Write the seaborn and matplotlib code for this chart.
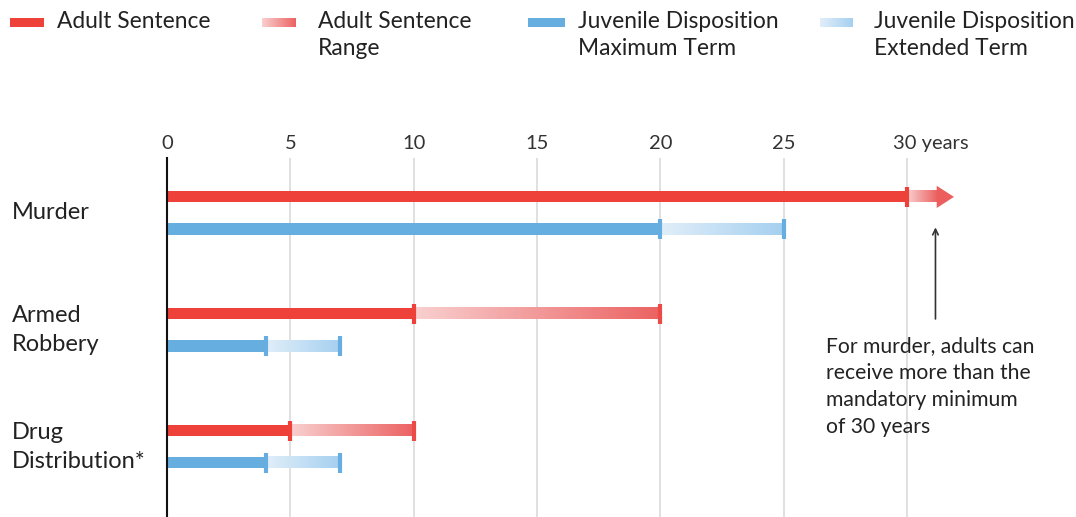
import matplotlib.pyplot as plt
import matplotlib.colors as mcolors
import matplotlib.transforms as mtransforms
import numpy as np
import pandas as pd
import seaborn as sns

sns.set_style('white')
plt.rcParams['font.family'] = ['Lato', 'DejaVu Sans']

# data (years)
offenses = ['Murder', 'Armed\nRobbery', 'Drug\nDistribution*']
adult_min = [30, 10, 5]
adult_max = [None, 20, 10]          # murder has no upper limit -> arrow
murder_arrow_end = 31.9
juvenile_max = [20, 4, 4]
juvenile_ext = [25, 7, 7]
ticks = [0, 5, 10, 15, 20, 25, 30]
tick_labels = ['0', '5', '10', '15', '20', '25', '30 years']
legend_labels = ['Adult Sentence', 'Adult Sentence\nRange',
                 'Juvenile Disposition\nMaximum Term', 'Juvenile Disposition\nExtended Term']

RED = '#EE4139'
BLUE = '#66AEE0'
red_range = mcolors.LinearSegmentedColormap.from_list('rr', ['#F9D0D0', '#EC6262'])
blue_range = mcolors.LinearSegmentedColormap.from_list('br', ['#E1EEF9', '#A5D0F0'])
TEXT = '#222222'

W, H = 1076, 517
fig = plt.figure(figsize=(W / 100, H / 100), dpi=100)
ax = fig.add_axes([167 / W, 0, 909 / W, (H - 158) / H])

df = pd.DataFrame({
    'offense': offenses * 2,
    'years': adult_min + juvenile_max,
    'type': ['Adult Sentence'] * 3 + ['Juvenile Disposition Maximum Term'] * 3,
})
sns.barplot(data=df, y='offense', x='years', hue='type', palette=[RED, BLUE],
            width=0.55, dodge=True, saturation=1, legend=False, ax=ax, zorder=3)

# thin the bars around their centres
bar_h = 0.095
centres = []
for p in ax.patches:
    cy = p.get_y() + p.get_height() / 2
    p.set_height(bar_h)
    p.set_y(cy - bar_h / 2)
    p.set_linewidth(0)
    centres.append(cy)
y_adult = centres[:3]
y_juv = centres[3:6]

grad = np.linspace(0, 1, 256).reshape(1, -1)


def gradient_bar(x0, x1, y, cmap):
    ax.imshow(grad, extent=[x0, x1, y + bar_h / 2, y - bar_h / 2], aspect='auto',
              cmap=cmap, zorder=2, interpolation='bilinear')


cap = dict(marker='|', ms=15, mew=3, zorder=4, clip_on=False)
for i in range(3):
    # adult
    if adult_max[i] is None:
        head = 0.7
        gradient_bar(adult_min[i], murder_arrow_end - head, y_adult[i], red_range)
        ax.fill([murder_arrow_end - head, murder_arrow_end, murder_arrow_end - head],
                [y_adult[i] - 0.095, y_adult[i], y_adult[i] + 0.095],
                color='#EC5E5E', lw=0, zorder=3)
    else:
        gradient_bar(adult_min[i], adult_max[i], y_adult[i], red_range)
        ax.plot([adult_max[i]], [y_adult[i]], color='#EC4A46', **cap)
    ax.plot([adult_min[i]], [y_adult[i]], color=RED, **cap)
    # juvenile
    gradient_bar(juvenile_max[i], juvenile_ext[i], y_juv[i], blue_range)
    ax.plot([juvenile_max[i]], [y_juv[i]], color=BLUE, **cap)
    ax.plot([juvenile_ext[i]], [y_juv[i]], color=BLUE, **cap)

ax.set_xlim(0, 909 / 24.67)
ax.set_ylim(2.6, -0.47)
ax.set_xticks(ticks)
ax.set_xticklabels(tick_labels)
ax.set_yticks([])
ax.set_xlabel('')
ax.set_ylabel('')
ax.xaxis.tick_top()
ax.tick_params(axis='x', length=0, pad=4, labelsize=14.5, labelcolor='#333333')
# keep the number of the last label on its tick, unit runs off to the right
last = ax.get_xticklabels()[-1]
last.set_horizontalalignment('left')
last.set_transform(last.get_transform() +
                   mtransforms.ScaledTranslation(-0.14, 0, fig.dpi_scale_trans))
ax.grid(axis='x', color='#dddddd', lw=1.3)
ax.set_axisbelow(True)
sns.despine(ax=ax, left=False, bottom=True)
ax.spines['left'].set_color('#111111')
ax.spines['left'].set_linewidth(1.5)
ax.spines['left'].set_zorder(5)

# category labels on the left
for i, name in enumerate(offenses):
    ax.text(-155 / 909, i, name, transform=ax.get_yaxis_transform(), ha='left',
            va='center', fontsize=17, color=TEXT, linespacing=1.47)

# annotation for murder
ax.annotate('', xy=(31.15, 0.10), xytext=(31.15, 0.93),
            arrowprops=dict(arrowstyle='->', color='#333333', lw=1.2))
ax.text(26.71, 1.055, 'For murder, adults can\nreceive more than the\nmandatory minimum\nof 30 years',
        ha='left', va='top', fontsize=15.2, color=TEXT, linespacing=1.44)

# legend built by hand
legend_x = [(10, 43, 57), (262, 296, 318), (528, 565, 578), (820, 853, 874)]
legend_fill = [RED, red_range, BLUE, blue_range]
for (sx0, sx1, tx), fill, label in zip(legend_x, legend_fill, legend_labels):
    sw = fig.add_axes([sx0 / W, 1 - 27 / H, (sx1 - sx0) / W, 9 / H])
    if isinstance(fill, str):
        sw.imshow(np.zeros((1, 2)), cmap=mcolors.ListedColormap([fill]), aspect='auto')
    else:
        sw.imshow(grad, cmap=fill, aspect='auto')
    sw.axis('off')
    fig.text(tx / W, 1 - 11 / H, label, ha='left', va='top', fontsize=16.4,
             color=TEXT, linespacing=1.37)

fig.savefig('out.png', dpi=100)
